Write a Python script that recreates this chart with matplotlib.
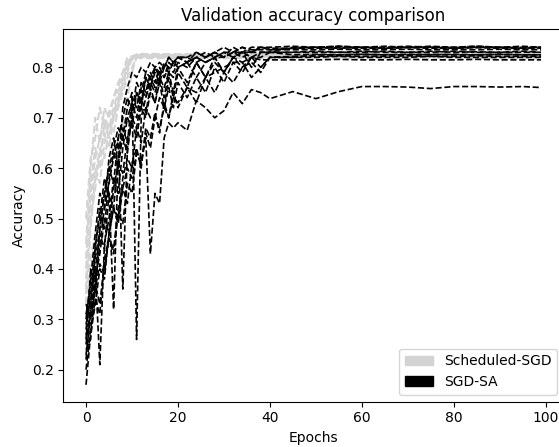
import matplotlib
matplotlib.use("Agg")
import matplotlib.pyplot as plt
from matplotlib.patches import Patch

sgd_epochs = [0, 1, 2, 3, 4, 5, 6, 7, 8, 9, 10, 11, 12, 13, 14, 20, 30, 40, 60, 80, 99]
sa_epochs = list(range(0, 21)) + [22, 24, 26, 28, 30, 32, 34, 36, 38, 40,
                                  45, 50, 55, 60, 65, 70, 75, 80, 85, 90, 95, 99]

# Scheduled-SGD runs
sched_sgd = [
    [0.40, 0.55, 0.62, 0.66, 0.70, 0.68, 0.72, 0.75, 0.78, 0.81, 0.82, 0.82, 0.821, 0.82, 0.821, 0.82, 0.821, 0.82, 0.821, 0.82, 0.82],
    [0.33, 0.48, 0.58, 0.64, 0.62, 0.67, 0.70, 0.73, 0.76, 0.79, 0.82, 0.825, 0.824, 0.825, 0.824, 0.825, 0.824, 0.825, 0.824, 0.825, 0.825],
    [0.45, 0.60, 0.70, 0.65, 0.72, 0.70, 0.74, 0.77, 0.79, 0.81, 0.82, 0.822, 0.823, 0.822, 0.823, 0.822, 0.823, 0.822, 0.823, 0.822, 0.822],
    [0.36, 0.52, 0.60, 0.57, 0.65, 0.69, 0.67, 0.72, 0.75, 0.78, 0.80, 0.82, 0.818, 0.819, 0.818, 0.819, 0.818, 0.819, 0.818, 0.819, 0.818],
    [0.50, 0.62, 0.66, 0.72, 0.68, 0.71, 0.74, 0.76, 0.79, 0.82, 0.822, 0.826, 0.827, 0.826, 0.827, 0.826, 0.827, 0.826, 0.827, 0.826, 0.826],
    [0.35, 0.42, 0.47, 0.50, 0.46, 0.44, 0.55, 0.62, 0.68, 0.74, 0.79, 0.82, 0.821, 0.822, 0.821, 0.822, 0.821, 0.822, 0.821, 0.822, 0.821],
    [0.42, 0.57, 0.64, 0.60, 0.69, 0.66, 0.71, 0.74, 0.77, 0.80, 0.82, 0.824, 0.823, 0.824, 0.823, 0.824, 0.823, 0.824, 0.823, 0.824, 0.823],
    [0.38, 0.50, 0.56, 0.63, 0.67, 0.64, 0.70, 0.73, 0.77, 0.80, 0.815, 0.825, 0.826, 0.825, 0.826, 0.825, 0.826, 0.825, 0.826, 0.825, 0.825],
]

# SGD-SA runs
sgd_sa = [
    [0.30, 0.38, 0.47, 0.55, 0.52, 0.62, 0.66, 0.60, 0.72, 0.76, 0.79, 0.78, 0.80, 0.79, 0.81, 0.80, 0.81, 0.80, 0.82, 0.81, 0.82,
     0.82, 0.81, 0.82, 0.83, 0.82, 0.83, 0.83, 0.82, 0.83, 0.83,
     0.83, 0.83, 0.83, 0.832, 0.83, 0.83, 0.832, 0.83, 0.831, 0.83, 0.83, 0.83],
    [0.25, 0.33, 0.40, 0.21, 0.45, 0.50, 0.58, 0.55, 0.64, 0.70, 0.68, 0.75, 0.72, 0.78, 0.76, 0.79, 0.77, 0.80, 0.79, 0.81, 0.80,
     0.81, 0.82, 0.81, 0.82, 0.83, 0.82, 0.83, 0.83, 0.84, 0.835,
     0.838, 0.84, 0.838, 0.84, 0.838, 0.84, 0.84, 0.838, 0.84, 0.84, 0.838, 0.84],
    [0.28, 0.35, 0.42, 0.48, 0.55, 0.60, 0.64, 0.68, 0.66, 0.72, 0.75, 0.26, 0.70, 0.74, 0.78, 0.76, 0.79, 0.78, 0.80, 0.79, 0.81,
     0.80, 0.82, 0.81, 0.82, 0.82, 0.83, 0.82, 0.83, 0.83, 0.83,
     0.825, 0.826, 0.825, 0.826, 0.825, 0.826, 0.825, 0.826, 0.825, 0.826, 0.825, 0.825],
    [0.17, 0.27, 0.33, 0.40, 0.38, 0.47, 0.52, 0.50, 0.58, 0.62, 0.60, 0.68, 0.65, 0.72, 0.70, 0.70, 0.74, 0.72, 0.76, 0.72, 0.77,
     0.74, 0.78, 0.75, 0.80, 0.77, 0.81, 0.79, 0.82, 0.80, 0.82,
     0.82, 0.82, 0.822, 0.82, 0.82, 0.82, 0.822, 0.82, 0.82, 0.82, 0.82, 0.82],
    [0.33, 0.30, 0.45, 0.50, 0.58, 0.55, 0.32, 0.62, 0.68, 0.65, 0.74, 0.72, 0.77, 0.75, 0.79, 0.77, 0.80, 0.78, 0.81, 0.80, 0.82,
     0.81, 0.83, 0.82, 0.83, 0.82, 0.84, 0.83, 0.84, 0.84, 0.84,
     0.842, 0.84, 0.842, 0.84, 0.842, 0.84, 0.842, 0.84, 0.842, 0.84, 0.842, 0.84],
    [0.22, 0.32, 0.37, 0.45, 0.52, 0.57, 0.62, 0.66, 0.36, 0.64, 0.70, 0.68, 0.74, 0.71, 0.76, 0.73, 0.78, 0.74, 0.79, 0.75, 0.80,
     0.77, 0.81, 0.78, 0.81, 0.79, 0.82, 0.80, 0.82, 0.815, 0.815,
     0.815, 0.815, 0.816, 0.815, 0.815, 0.816, 0.815, 0.815, 0.816, 0.815, 0.815, 0.815],
    [0.26, 0.40, 0.35, 0.48, 0.55, 0.60, 0.57, 0.66, 0.70, 0.74, 0.71, 0.77, 0.75, 0.79, 0.78, 0.80, 0.79, 0.80, 0.82, 0.81, 0.82,
     0.82, 0.83, 0.82, 0.83, 0.84, 0.83, 0.84, 0.835, 0.835, 0.835,
     0.835, 0.835, 0.836, 0.835, 0.835, 0.836, 0.835, 0.835, 0.835, 0.836, 0.835, 0.835],
    [0.20, 0.28, 0.34, 0.31, 0.42, 0.46, 0.44, 0.52, 0.56, 0.53, 0.61, 0.64, 0.60, 0.68, 0.66, 0.71, 0.67, 0.73, 0.70, 0.75, 0.72,
     0.76, 0.73, 0.78, 0.75, 0.79, 0.77, 0.80, 0.81, 0.79, 0.82,
     0.82, 0.825, 0.825, 0.826, 0.825, 0.825, 0.826, 0.825, 0.825, 0.826, 0.825, 0.825],
    [0.31, 0.36, 0.44, 0.52, 0.48, 0.58, 0.63, 0.60, 0.67, 0.70, 0.73, 0.70, 0.76, 0.74, 0.77, 0.75, 0.78, 0.76, 0.79, 0.78, 0.80,
     0.81, 0.78, 0.81, 0.82, 0.79, 0.82, 0.81, 0.78, 0.80, 0.82,
     0.822, 0.822, 0.823, 0.822, 0.822, 0.823, 0.822, 0.822, 0.823, 0.822, 0.822, 0.822],
    [0.27, 0.31, 0.38, 0.43, 0.50, 0.47, 0.56, 0.61, 0.59, 0.66, 0.69, 0.66, 0.72, 0.70, 0.75, 0.73, 0.77, 0.72, 0.78, 0.74, 0.79,
     0.76, 0.81, 0.78, 0.82, 0.79, 0.82, 0.83, 0.80, 0.83, 0.83,
     0.83, 0.832, 0.83, 0.83, 0.832, 0.83, 0.83, 0.832, 0.83, 0.83, 0.832, 0.83],
    [0.24, 0.26, 0.37, 0.33, 0.41, 0.46, 0.43, 0.51, 0.49, 0.57, 0.55, 0.63, 0.61, 0.67, 0.64, 0.70, 0.68, 0.72, 0.70, 0.74, 0.73,
     0.76, 0.75, 0.78, 0.79, 0.80, 0.81, 0.81, 0.82, 0.82, 0.83,
     0.84, 0.84, 0.842, 0.84, 0.84, 0.842, 0.84, 0.84, 0.842, 0.84, 0.84, 0.84],
    [0.29, 0.34, 0.40, 0.47, 0.44, 0.55, 0.52, 0.62, 0.66, 0.63, 0.71, 0.75, 0.73, 0.78, 0.76, 0.80, 0.78, 0.81, 0.80, 0.81, 0.82,
     0.81, 0.82, 0.83, 0.82, 0.83, 0.83, 0.84, 0.83, 0.84, 0.838,
     0.838, 0.838, 0.839, 0.838, 0.838, 0.839, 0.838, 0.838, 0.839, 0.838, 0.838, 0.838],
    # the run that stays low
    [0.23, 0.30, 0.36, 0.41, 0.39, 0.47, 0.52, 0.49, 0.56, 0.60, 0.58, 0.63, 0.61, 0.66, 0.43, 0.55, 0.53, 0.66, 0.69, 0.68, 0.69,
     0.675, 0.734, 0.72, 0.70, 0.714, 0.75, 0.728, 0.756, 0.75, 0.738,
     0.752, 0.738, 0.752, 0.762, 0.762, 0.761, 0.758, 0.762, 0.762, 0.761, 0.762, 0.76],
]

fig = plt.figure(figsize=(5.59, 4.47), dpi=100)
ax = fig.add_axes([0.1132, 0.1013, 0.8954, 0.8331])

for run in sched_sgd:
    ax.plot(sgd_epochs, run, color="lightgray", linestyle="--")

for run in sgd_sa:
    ax.plot(sa_epochs, run, color="black", linestyle="--", linewidth=1.2)

ax.set_title("Validation accuracy comparison")
ax.set_xlabel("Epochs")
ax.set_ylabel("Accuracy")

handles = [Patch(color="lightgray", label="Scheduled-SGD"),
           Patch(color="black", label="SGD-SA")]
ax.legend(handles=handles, loc="lower right")

fig.savefig("out.png", dpi=100)
